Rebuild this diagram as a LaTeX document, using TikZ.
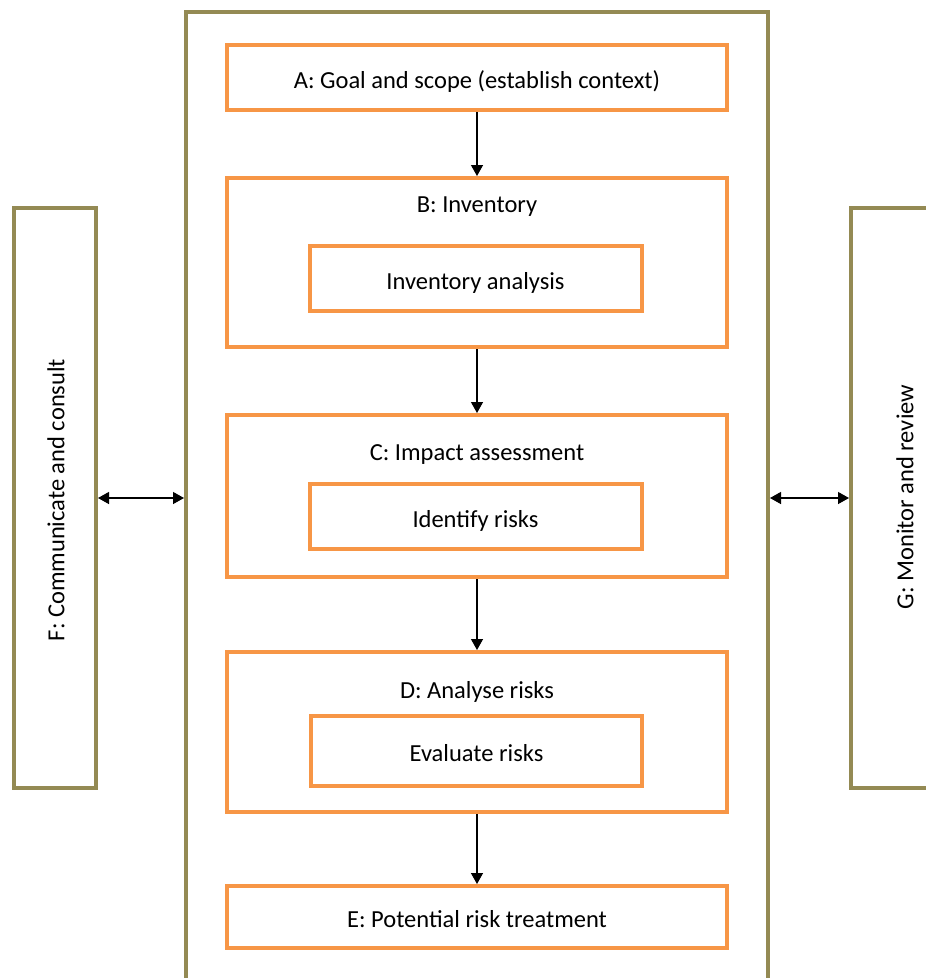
\documentclass[tikz,border=0pt]{standalone}
\usepackage{fontspec}
\setmainfont{Carlito}
\usetikzlibrary{arrows.meta}
\definecolor{stepOrange}{HTML}{F79646}
\definecolor{frameOlive}{HTML}{948A54}
\begin{document}
\begin{tikzpicture}[x=1pt,y=-1pt,
  font=\fontsize{24.5}{28}\selectfont,
  stepbox/.style={draw=stepOrange,line width=4pt,minimum width=500pt,inner sep=0pt,text height=21pt,text depth=0pt},
  subbox/.style={draw=stepOrange,line width=4pt,minimum width=332pt,minimum height=65pt,inner sep=0pt,text height=21pt,text depth=0pt},
  framebox/.style={draw=frameOlive,line width=4pt,inner sep=0pt},
  flow/.style={-{Triangle[length=11pt,width=12pt]},line width=1.3pt},
  link/.style={{Triangle[length=11pt,width=12pt]}-{Triangle[length=11pt,width=12pt]},line width=1.3pt}]
\useasboundingbox (0,0) rectangle (926,978);
\clip (0,0) rectangle (926,978);
\fill[white] (0,0) rectangle (926,978);

% outer process frame (runs past the lower edge)
\node[framebox,minimum width=582pt,minimum height=1000pt] (main) at (477,512) {};
% side panels
\node[framebox,minimum width=82pt,minimum height=580pt] (F) at (55,498) {};
\node[rotate=90] (Ft) at (56,500) {F: Communicate and consult};
\node[framebox,minimum width=110pt,minimum height=580pt] (G) at (906,498) {};
\node[rotate=90] (Gt) at (905,497) {G: Monitor and review};

% main steps
\node[stepbox,minimum height=65pt] (A) at (477,77.5) {A: Goal and scope (establish context)};

\node[stepbox,minimum height=169pt] (B) at (477,262.5) {};
\node (Bt) at (477,206.5) {B: Inventory};
\node[subbox] (Bi) at (475.5,278.5) {Inventory analysis};

\node[stepbox,minimum height=162pt] (C) at (477,496) {};
\node (Ct) at (477,454.5) {C: Impact assessment};
\node[subbox,minimum height=65pt] (Ci) at (475.5,516.5) {Identify risks};

\node[stepbox,minimum height=160pt] (D) at (477,732) {};
\node (Dt) at (477,692) {D: Analyse risks};
\node[subbox,minimum width=331pt,minimum height=70pt] (Di) at (476.5,751) {Evaluate risks};

\node[stepbox,minimum height=62pt] (E) at (477,917) {E: Potential risk treatment};

% connectors
\draw[flow] (A.south) -- (B.north);
\draw[flow] (B.south) -- (C.north);
\draw[flow] (C.south) -- (D.north);
\draw[flow] (D.south) -- (E.north);
\draw[link] (F.east) -- (F.east -| main.west);
\draw[link] (main.east |- G.west) -- (G.west);
\end{tikzpicture}
\end{document}
